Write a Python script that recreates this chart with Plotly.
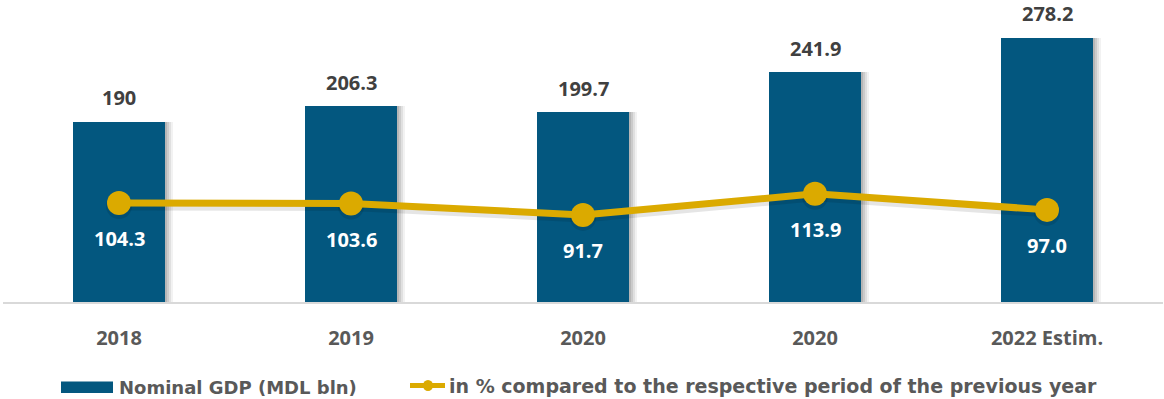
import plotly.graph_objects as go

# Data
years = ["2018", "2019", "2020", "2020", "2022 Estim."]
gdp_bln = [190, 206.3, 199.7, 241.9, 278.2]
growth_pct = [104.3, 103.6, 91.7, 113.9, 97.0]
gdp_labels = ["190", "206.3", "199.7", "241.9", "278.2"]
growth_labels = ["104.3", "103.6", "91.7", "113.9", "97.0"]

BAR_COLOR = "#03577F"
LINE_COLOR = "#DBAA00"
TICK_GREY = "#595959"
LABEL_GREY = "#404040"
FONT = "Open Sans"
LEGEND_FONT = "DejaVu Sans"

W, H = 1164, 399
ML, MR, MT, MB = 3, 1, 0, 97
PW, PH = W - ML - MR, H - MT - MB
Y_MAX = 318

def px_x(px):
    return (px - ML) / PW

def px_y(py):
    return (H - MB - py) / PH

xpos = list(range(len(years)))
bar_w = 0.4

fig = go.Figure()

# soft drop shadow behind each bar
for dx, extra, alpha in [(0.026, 0.014, 0.05), (0.019, 0.008, 0.07),
                         (0.013, 0.004, 0.09), (0.008, 0.0, 0.10)]:
    fig.add_trace(go.Bar(
        x=xpos, y=gdp_bln, width=bar_w + extra, offset=-bar_w / 2 + dx - extra / 2,
        marker=dict(color=f"rgba(0,0,0,{alpha})", line=dict(width=0)),
        hoverinfo="skip", showlegend=False,
    ))

fig.add_trace(go.Bar(
    x=xpos, y=gdp_bln, width=bar_w, offset=-bar_w / 2,
    marker=dict(color=BAR_COLOR, line=dict(width=0)),
    name="Nominal GDP (MDL bln)", showlegend=False,
))

# faint shadow under the growth line, drawn on an overlay axis nudged down a few pixels
shadow_shift = 3 * Y_MAX / PH
fig.add_trace(go.Scatter(
    x=xpos, y=growth_pct, mode="lines+markers", yaxis="y2",
    line=dict(color="rgba(0,0,0,0.10)", width=9),
    marker=dict(color="rgba(0,0,0,0.10)", size=26, line=dict(width=0)),
    hoverinfo="skip", showlegend=False,
))

fig.add_trace(go.Scatter(
    x=xpos, y=growth_pct, mode="lines+markers", yaxis="y3",
    line=dict(color=LINE_COLOR, width=7),
    marker=dict(color=LINE_COLOR, size=24, line=dict(width=0)),
    name="in % compared to the respective period of the previous year",
    showlegend=False,
))

annotations = []
for x, v, t in zip(xpos, gdp_bln, gdp_labels):
    annotations.append(dict(
        x=x, y=v, xref="x", yref="y", text=f"<b>{t}</b>", showarrow=False,
        yanchor="middle", yshift=24,
        font=dict(family=FONT, size=20, color=LABEL_GREY),
    ))
for x, v, t in zip(xpos, growth_pct, growth_labels):
    annotations.append(dict(
        x=x, y=v, xref="x", yref="y", text=f"<b>{t}</b>", showarrow=False,
        yanchor="middle", yshift=-36,
        font=dict(family=FONT, size=20, color="white"),
    ))

# legend drawn below the axis
annotations.append(dict(
    x=px_x(117), y=px_y(387), xref="paper", yref="paper", xanchor="left", yanchor="middle",
    text="<b>Nominal GDP (MDL bln)</b>", showarrow=False,
    font=dict(family=LEGEND_FONT, size=18, color=TICK_GREY),
))
annotations.append(dict(
    x=px_x(447), y=px_y(386), xref="paper", yref="paper", xanchor="left", yanchor="middle",
    text="<b>in % compared to the respective period of the previous year</b>", showarrow=False,
    font=dict(family=LEGEND_FONT, size=19, color=TICK_GREY),
))

shapes = [
    dict(type="rect", xref="paper", yref="paper",
         x0=px_x(61), x1=px_x(113), y0=px_y(393), y1=px_y(381.5),
         fillcolor=BAR_COLOR, line=dict(width=0)),
    dict(type="line", xref="paper", yref="paper",
         x0=px_x(410), x1=px_x(445), y0=px_y(385.5), y1=px_y(385.5),
         line=dict(color=LINE_COLOR, width=5)),
    dict(type="circle", xref="paper", yref="paper",
         x0=px_x(423), x1=px_x(433), y0=px_y(391), y1=px_y(380),
         fillcolor=LINE_COLOR, line=dict(width=0)),
]

fig.update_layout(
    width=W, height=H,
    margin=dict(l=ML, r=MR, t=MT, b=MB),
    paper_bgcolor="white", plot_bgcolor="white",
    barmode="overlay", bargap=0,
    annotations=annotations, shapes=shapes,
    showlegend=False,
    xaxis=dict(
        range=[-0.5, len(years) - 0.5],
        tickvals=xpos, ticktext=[f"<b>{y}</b>" for y in years],
        tickfont=dict(family=FONT, size=20, color=TICK_GREY),
        showgrid=False, zeroline=False,
        showline=True, linecolor="#D9D9D9", linewidth=2,
        ticks="", ticklabelstandoff=17,
    ),
    yaxis=dict(
        range=[0, Y_MAX], visible=False, showgrid=False, zeroline=False,
    ),
    yaxis2=dict(
        range=[shadow_shift, Y_MAX + shadow_shift], overlaying="y",
        visible=False, showgrid=False, zeroline=False,
    ),
    yaxis3=dict(
        range=[0, Y_MAX], overlaying="y",
        visible=False, showgrid=False, zeroline=False,
    ),
)

fig.write_html("out.html")
